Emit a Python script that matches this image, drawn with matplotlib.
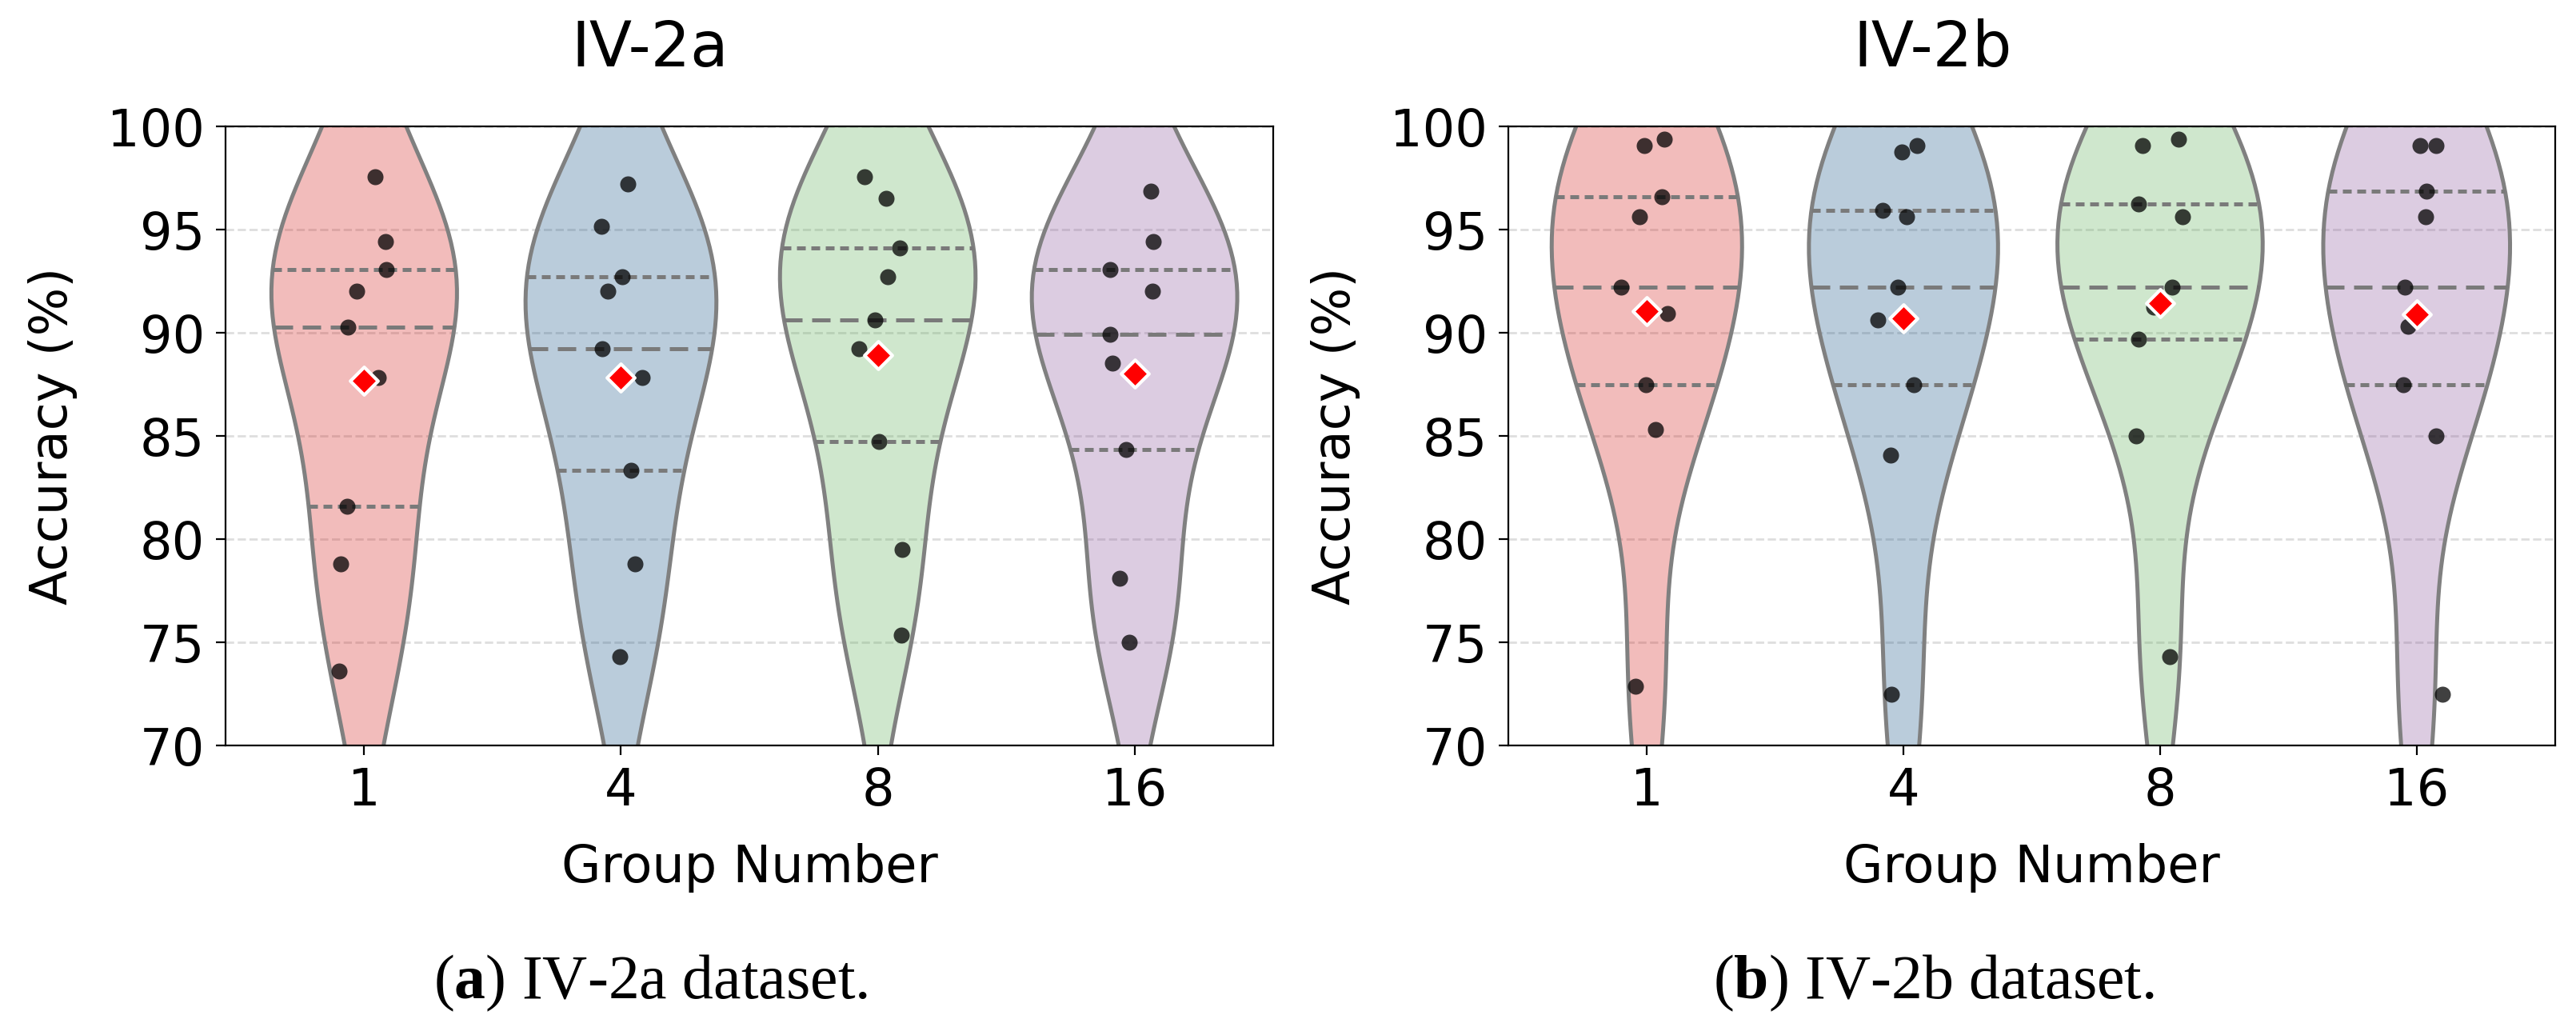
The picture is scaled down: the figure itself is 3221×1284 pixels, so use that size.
import numpy as np
import matplotlib
matplotlib.use("Agg")
import matplotlib.pyplot as plt

# group labels on the x axis
groups = ["1", "4", "8", "16"]

# accuracy per subject (%), BCI IV-2a
iv2a_g1 = [97.57, 94.43, 93.06, 92.00, 90.27, 87.84, 81.59, 78.80, 73.60]
iv2a_g4 = [97.22, 95.14, 92.71, 92.00, 89.22, 87.84, 83.33, 78.80, 74.29]
iv2a_g8 = [97.57, 96.53, 94.10, 92.71, 90.63, 89.22, 84.71, 79.51, 75.35]
iv2a_g16 = [96.86, 94.43, 93.06, 92.00, 89.92, 88.53, 84.35, 78.10, 75.00]

# accuracy per subject (%), BCI IV-2b
iv2b_g1 = [99.37, 99.06, 96.57, 95.63, 92.20, 90.94, 87.49, 85.31, 72.86]
iv2b_g4 = [99.06, 98.76, 95.94, 95.63, 92.20, 90.63, 87.49, 84.06, 72.49]
iv2b_g8 = [99.37, 99.06, 96.25, 95.63, 92.20, 91.25, 89.69, 85.00, 74.29]
iv2b_g16 = [99.06, 99.06, 96.86, 95.63, 92.20, 90.31, 87.49, 85.00, 72.49]

# horizontal jitter of the strip points (category units)
jit_2a = [
    [0.041, 0.083, 0.085, -0.029, -0.065, 0.054, -0.068, -0.093, -0.099],
    [0.026, -0.077, 0.005, -0.050, -0.073, 0.082, 0.040, 0.054, -0.006],
    [-0.053, 0.033, 0.085, 0.040, -0.011, -0.074, 0.005, 0.094, 0.091],
    [0.062, 0.073, -0.094, 0.070, -0.096, -0.085, -0.033, -0.057, -0.022],
]
jit_2b = [
    [0.068, -0.011, 0.059, -0.028, -0.100, 0.080, -0.004, 0.035, -0.045],
    [0.054, -0.008, -0.081, 0.012, -0.021, -0.099, 0.041, -0.051, -0.047],
    [0.073, -0.067, -0.084, 0.087, 0.048, -0.024, -0.083, -0.092, 0.037],
    [0.013, 0.076, 0.037, 0.035, -0.046, -0.034, -0.052, 0.076, 0.100],
]

# fill colours, drawn at alpha 0.3
colors = ["#D42320", "#1C588A", "#62B25C", "#8E589E"]

W, H = 3221, 1284
DPI = 200
plt.rcParams["font.family"] = ["DejaVu Sans"]
plt.rcParams["mathtext.fontset"] = "custom"
plt.rcParams["mathtext.rm"] = "Liberation Serif"
plt.rcParams["mathtext.bf"] = "Liberation Serif:bold"


def kde(vals, cut=2, gridsize=100):
    # gaussian kde, scott bandwidth (same as seaborn defaults)
    v = np.asarray(vals, float)
    n = len(v)
    bw = np.std(v, ddof=1) * n ** (-1.0 / 5)
    grid = np.linspace(v.min() - cut * bw, v.max() + cut * bw, gridsize)
    z = (grid[:, None] - v[None, :]) / bw
    dens = np.exp(-0.5 * z**2).sum(axis=1) / (n * bw * np.sqrt(2 * np.pi))
    return grid, dens


def violins(ax, data, jitter, width=0.8):
    kdes = [kde(d) for d in data]
    norm = max(k[1].max() for k in kdes)
    lw = 1.8
    for i, (d, (grid, dens)) in enumerate(zip(data, kdes)):
        half = dens / norm * width / 2
        ax.fill_betweenx(grid, i - half, i + half, facecolor=colors[i],
                         alpha=0.3, edgecolor="none", zorder=1)
        ax.fill_betweenx(grid, i - half, i + half, facecolor="none",
                         edgecolor="#808080", linewidth=lw, zorder=2)
        q1, med, q3 = np.percentile(d, [25, 50, 75])
        for q, dash in [(q1, (2.2, 1.4)), (med, (4.6, 2.4)), (q3, (2.2, 1.4))]:
            h = np.interp(q, grid, half)
            ax.plot([i - h, i + h], [q, q], color="#7a7a7a", lw=lw,
                    dashes=dash, zorder=2)
        ax.scatter(i + np.asarray(jitter[i]), d, s=52, color="black",
                   alpha=0.75, linewidths=0, zorder=3)
        ax.scatter([i], [np.mean(d)], s=78, marker="D", color="red",
                   edgecolors="white", linewidths=1.5, zorder=4)

    ax.set_xlim(-0.54, 3.54)
    ax.set_ylim(70, 100)
    ax.set_xticks(range(len(groups)))
    ax.set_xticklabels(groups)
    ax.set_yticks(np.arange(70, 101, 5))
    ax.yaxis.grid(True, linestyle="--", color="#d0d0d0", alpha=0.7, lw=1.0)
    ax.set_axisbelow(True)
    ax.tick_params(labelsize=23, length=4.3, pad=5)
    ax.set_xlabel("Group Number", fontsize=23)
    ax.set_ylabel("Accuracy (%)", fontsize=23)
    ax.xaxis.set_label_coords(0.5, -0.157)
    ax.yaxis.set_label_coords(-0.141, 0.5)


fig = plt.figure(figsize=(W / DPI, H / DPI), dpi=DPI)
ax1 = fig.add_axes([282 / W, 1 - 932 / H, 1310 / W, 774 / H])
ax2 = fig.add_axes([1886 / W, 1 - 932 / H, 1309 / W, 774 / H])

violins(ax1, [iv2a_g1, iv2a_g4, iv2a_g8, iv2a_g16], jit_2a)
violins(ax2, [iv2b_g1, iv2b_g4, iv2b_g8, iv2b_g16], jit_2b)

fig.text(813 / W, 1 - 83 / H, "IV-2a", fontsize=28, ha="center", va="baseline")
fig.text(2417 / W, 1 - 83 / H, "IV-2b", fontsize=28, ha="center", va="baseline")

fig.text(814 / W, 1 - 1248 / H, r"($\mathbf{a}$) IV-2a dataset.",
         family="Liberation Serif", fontsize=28, ha="center", va="baseline")
fig.text(2418 / W, 1 - 1248 / H, r"($\mathbf{b}$) IV-2b dataset.",
         family="Liberation Serif", fontsize=28, ha="center", va="baseline")

fig.savefig("out.png", dpi=DPI)
